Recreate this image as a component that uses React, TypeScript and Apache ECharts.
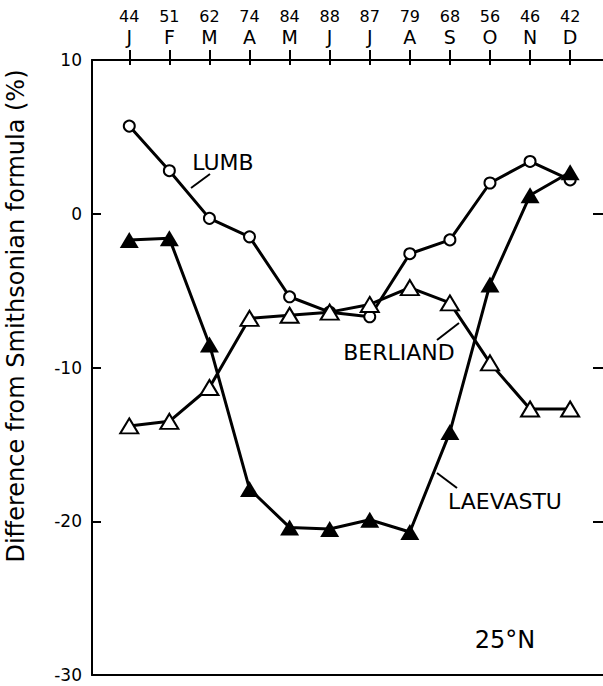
import React, { useEffect, useRef } from 'react';
import * as echarts from 'echarts';

// Month initials along the top axis
const months = ['J', 'F', 'M', 'A', 'M', 'J', 'J', 'A', 'S', 'O', 'N', 'D'];
// Numbers printed above the month initials
const topNumbers = [44, 51, 62, 74, 84, 88, 87, 79, 68, 56, 46, 42];
// Difference from Smithsonian formula (%)
const lumb = [5.7, 2.8, -0.3, -1.5, -5.4, -6.4, -6.7, -2.6, -1.7, 2.0, 3.4, 2.2];
const berliand = [-13.8, -13.5, -11.3, -6.8, -6.6, -6.4, -5.9, -4.8, -5.8, -9.7, -12.7, -12.7];
const laevastu = [-1.7, -1.6, -8.5, -17.9, -20.4, -20.5, -19.9, -20.7, -14.2, -4.6, 1.2, 2.7];
const rightTicks = [-20, -10, 0];

const FONT = 'DejaVu Sans';

export default function App() {
  const ref = useRef<HTMLDivElement>(null);

  useEffect(() => {
    if (!ref.current) return;
    const chart = echarts.init(ref.current, null, { renderer: 'svg' });
    const monthIdx = months.map((_, i) => i);
    const xMin = -0.93;
    const xMax = 11.82;
    const black = '#000';
    const toPairs = (arr: number[]) => arr.map((v, i) => [i, v]);

    chart.setOption({
      animation: false,
      backgroundColor: '#fff',
      textStyle: { fontFamily: FONT, color: black },
      grid: { left: 92, right: 0, top: 60, bottom: 11, containLabel: false },
      xAxis: [
        {
          type: 'value',
          position: 'top',
          min: xMin,
          max: xMax,
          axisLine: { show: true, onZero: false, lineStyle: { color: black, width: 2 } },
          axisTick: { show: true, customValues: monthIdx, length: 10, lineStyle: { color: black, width: 2 } },
          axisLabel: {
            show: true,
            customValues: monthIdx,
            margin: 13,
            formatter: (v: number) => `{n|${topNumbers[Math.round(v)]}}\n{m|${months[Math.round(v)]}}`,
            rich: {
              n: { fontSize: 16, lineHeight: 20, fontFamily: FONT, color: black },
              m: { fontSize: 19, lineHeight: 21, fontFamily: FONT, color: black },
            },
          },
          splitLine: { show: false },
        },
        {
          type: 'value',
          position: 'top',
          min: xMin,
          max: xMax,
          axisLine: { show: false, onZero: false },
          axisTick: { show: true, inside: true, customValues: monthIdx, length: 5, lineStyle: { color: black, width: 2 } },
          axisLabel: { show: false },
          splitLine: { show: false },
        },
        {
          type: 'value',
          position: 'bottom',
          min: xMin,
          max: xMax,
          axisLine: { show: true, onZero: false, lineStyle: { color: black, width: 2 } },
          axisTick: { show: false },
          axisLabel: { show: false },
          splitLine: { show: false },
        },
      ],
      yAxis: [
        {
          type: 'value',
          position: 'left',
          min: -30,
          max: 10,
          interval: 10,
          axisLine: { show: true, onZero: false, lineStyle: { color: black, width: 2 } },
          axisTick: { show: true, inside: true, length: 9, lineStyle: { color: black, width: 2 } },
          axisLabel: { show: true, fontSize: 17, margin: 10, color: black, fontFamily: FONT },
          splitLine: { show: false },
        },
        {
          type: 'value',
          position: 'right',
          min: -30,
          max: 10,
          interval: 10,
          axisLine: { show: false, onZero: false },
          axisTick: { show: true, inside: true, length: 10, customValues: rightTicks, lineStyle: { color: black, width: 2 } },
          axisLabel: { show: false },
          splitLine: { show: false },
        },
      ],
      series: [
        {
          name: 'LUMB',
          type: 'line',
          xAxisIndex: 0,
          yAxisIndex: 0,
          data: toPairs(lumb),
          symbol: 'circle',
          symbolSize: 11,
          showAllSymbol: true,
          lineStyle: { color: black, width: 3 },
          itemStyle: { color: '#fff', borderColor: black, borderWidth: 2 },
          silent: true,
          z: 3,
        },
        {
          name: 'BERLIAND',
          type: 'line',
          xAxisIndex: 0,
          yAxisIndex: 0,
          data: toPairs(berliand),
          symbol: 'triangle',
          symbolSize: [18, 15],
          showAllSymbol: true,
          lineStyle: { color: black, width: 3 },
          itemStyle: { color: '#fff', borderColor: black, borderWidth: 2 },
          silent: true,
          z: 4,
        },
        {
          name: 'LAEVASTU',
          type: 'line',
          xAxisIndex: 0,
          yAxisIndex: 0,
          data: toPairs(laevastu),
          symbol: 'triangle',
          symbolSize: [19, 16],
          showAllSymbol: true,
          lineStyle: { color: black, width: 3 },
          itemStyle: { color: black, borderColor: black, borderWidth: 0 },
          silent: true,
          z: 5,
        },
      ],
      graphic: [
        {
          type: 'text',
          x: 16,
          y: 316,
          rotation: Math.PI / 2,
          style: { text: 'Difference from Smithsonian formula (%)', font: `24px "${FONT}"`, fill: black, align: 'center', verticalAlign: 'middle' },
        },
        { type: 'text', x: 223, y: 162, style: { text: 'LUMB', font: `22px "${FONT}"`, fill: black, align: 'center', verticalAlign: 'middle' } },
        { type: 'line', shape: { x1: 210, y1: 174, x2: 191, y2: 188 }, style: { stroke: black, lineWidth: 2 } },
        { type: 'text', x: 399, y: 352, style: { text: 'BERLIAND', font: `22px "${FONT}"`, fill: black, align: 'center', verticalAlign: 'middle' } },
        { type: 'line', shape: { x1: 437, y1: 340, x2: 459, y2: 323 }, style: { stroke: black, lineWidth: 2 } },
        { type: 'text', x: 505, y: 501, style: { text: 'LAEVASTU', font: `22px "${FONT}"`, fill: black, align: 'center', verticalAlign: 'middle' } },
        { type: 'line', shape: { x1: 457, y1: 488, x2: 437, y2: 473 }, style: { stroke: black, lineWidth: 2 } },
        { type: 'text', x: 505, y: 640, style: { text: '25°N', font: `24px "${FONT}"`, fill: black, align: 'center', verticalAlign: 'middle' } },
      ],
    });

    return () => chart.dispose();
  }, []);

  return (
    <div
      ref={ref}
      style={{ position: 'fixed', left: 0, top: 0, width: 603, height: 686, background: '#fff' }}
    />
  );
}
